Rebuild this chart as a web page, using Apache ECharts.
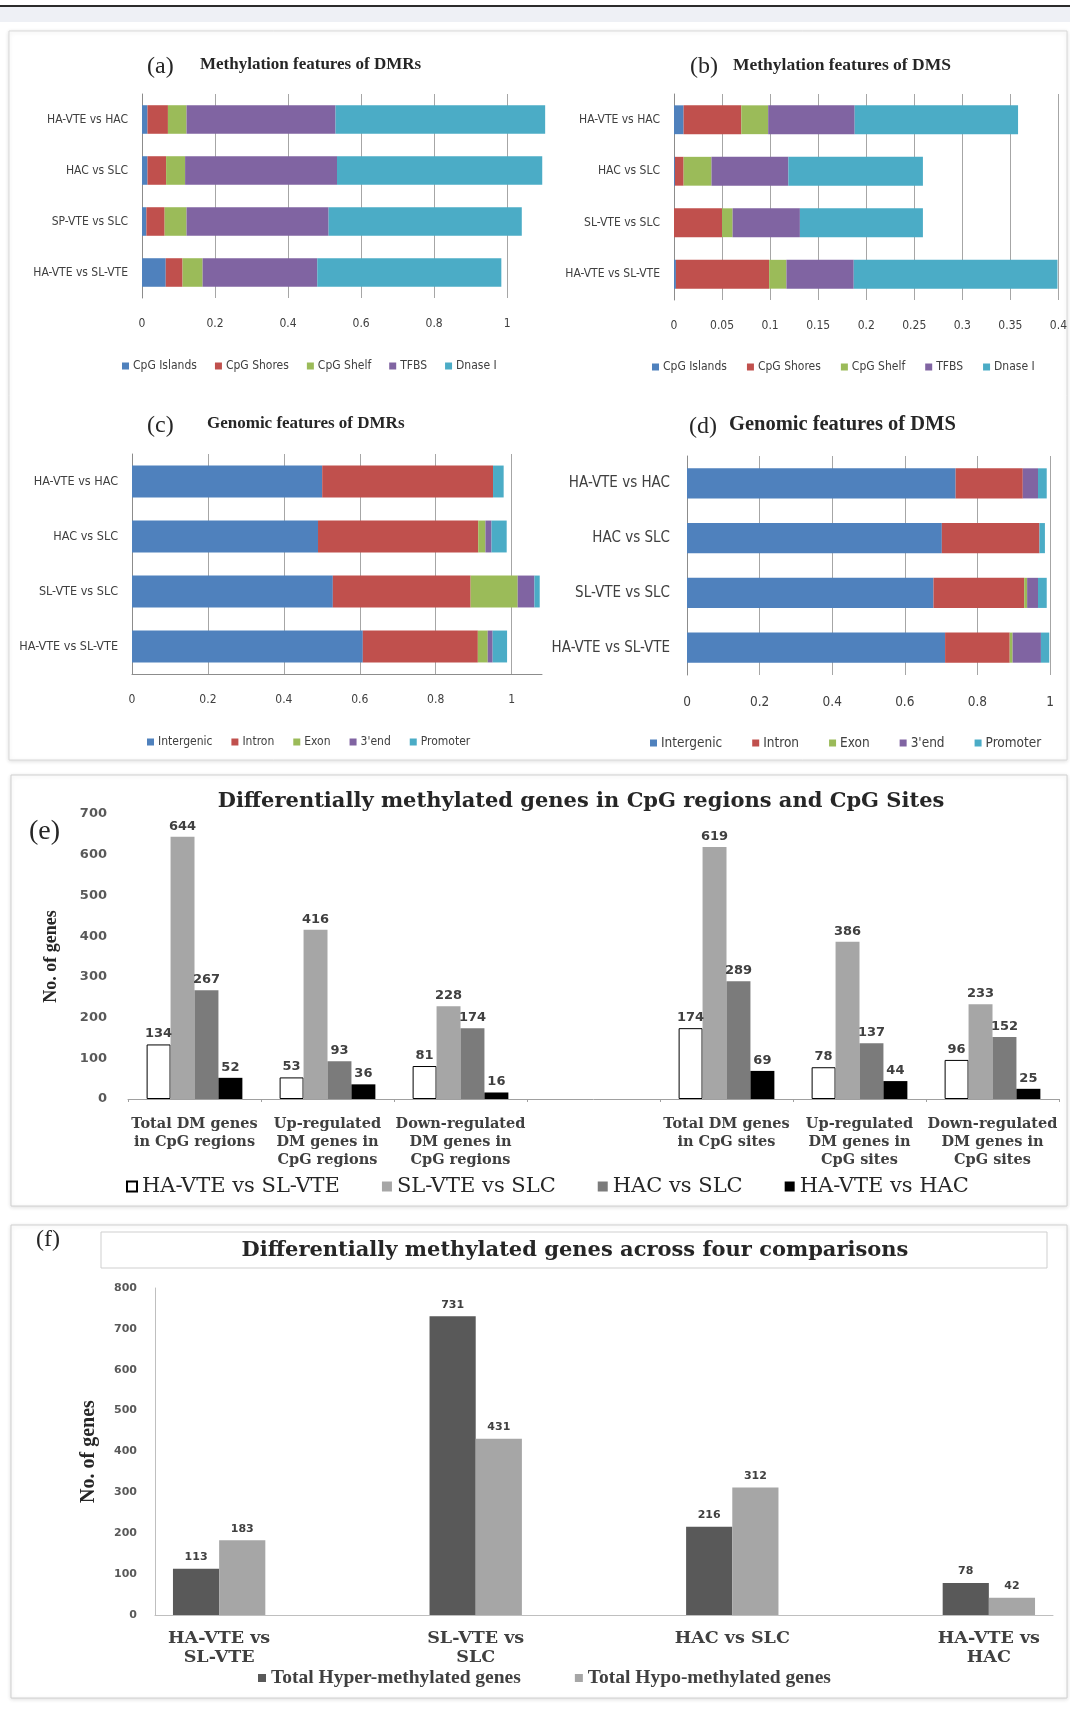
<!DOCTYPE html>
<html>
<head>
<meta charset="utf-8">
<title>Differential methylation summary</title>
<script src="https://cdn.jsdelivr.net/npm/echarts@6/dist/echarts.min.js"></script>
<style>
  html, body { margin: 0; padding: 0; background: #ffffff; }
  #chart { width: 1070px; height: 1711px; }
</style>
</head>
<body>
<div id="chart"></div>
<script>
// ---------- comparison groups ----------
const dmrComparisons = ['HA-VTE vs HAC', 'HAC vs SLC', 'SP-VTE vs SLC', 'HA-VTE vs SL-VTE'];
const dmsComparisons = ['HA-VTE vs HAC', 'HAC vs SLC', 'SL-VTE vs SLC', 'HA-VTE vs SL-VTE'];

// ---------- (a) methylation features of DMRs (fractions, rows top to bottom) ----------
const methylFeatures = ['CpG Islands', 'CpG Shores', 'CpG Shelf', 'TFBS', 'Dnase I'];
const dmrCpgIslands = [0.015, 0.015, 0.012, 0.065];
const dmrCpgShores  = [0.056, 0.051, 0.050, 0.046];
const dmrCpgShelf   = [0.051, 0.052, 0.060, 0.055];
const dmrTfbs       = [0.408, 0.416, 0.389, 0.314];
const dmrDnase      = [0.574, 0.562, 0.529, 0.504];

// ---------- (b) methylation features of DMS ----------
const dmsCpgIslands = [0.010, 0.001, 0.000, 0.002];
const dmsCpgShores  = [0.060, 0.009, 0.050, 0.097];
const dmsCpgShelf   = [0.028, 0.029, 0.011, 0.018];
const dmsTfbs       = [0.090, 0.080, 0.070, 0.070];
const dmsDnase      = [0.170, 0.140, 0.128, 0.212];

// ---------- (c) genomic features of DMRs ----------
const genomicFeatures = ['Intergenic', 'Intron', 'Exon', "3'end", 'Promoter'];
const dmrIntergenic = [0.501, 0.490, 0.529, 0.608];
const dmrIntron     = [0.450, 0.422, 0.363, 0.303];
const dmrExon       = [0.000, 0.019, 0.124, 0.026];
const dmrThreeEnd   = [0.000, 0.016, 0.044, 0.013];
const dmrPromoter   = [0.028, 0.040, 0.014, 0.038];

// ---------- (d) genomic features of DMS ----------
const dmsIntergenic = [0.740, 0.702, 0.679, 0.711];
const dmsIntron     = [0.185, 0.269, 0.250, 0.178];
const dmsExon       = [0.000, 0.000, 0.008, 0.008];
const dmsThreeEnd   = [0.042, 0.000, 0.030, 0.078];
const dmsPromoter   = [0.024, 0.015, 0.024, 0.023];

// ---------- (e) DM genes in CpG regions and CpG sites ----------
const geneGroups = [
  'Total DM genes\nin CpG regions',
  'Up-regulated\nDM genes in\nCpG regions',
  'Down-regulated\nDM genes in\nCpG regions',
  '',
  'Total DM genes\nin CpG sites',
  'Up-regulated\nDM genes in\nCpG sites',
  'Down-regulated\nDM genes in\nCpG sites'
];
const geneSeriesNames = ['HA-VTE vs SL-VTE', 'SL-VTE vs SLC', 'HAC vs SLC', 'HA-VTE vs HAC'];
const genesHaVteVsSlVte = [134, 53, 81, '-', 174, 78, 96];
const genesSlVteVsSlc   = [644, 416, 228, '-', 619, 386, 233];
const genesHacVsSlc     = [267, 93, 174, '-', 289, 137, 152];
const genesHaVteVsHac   = [52, 36, 16, '-', 69, 44, 25];
const geneTicks = [0, 100, 200, 300, 400, 500, 600, 700];

// ---------- (f) hyper / hypo methylated genes per comparison ----------
const pairComparisons = ['HA-VTE vs\nSL-VTE', 'SL-VTE vs\nSLC', 'HAC vs SLC', 'HA-VTE vs\nHAC'];
const hyperMethylated = [113, 731, 216, 78];
const hypoMethylated  = [183, 431, 312, 42];
const pairTicks = [0, 100, 200, 300, 400, 500, 600, 700, 800];

// ---------- styling ----------
const NARROW = "'Liberation Sans Narrow','DejaVu Sans Condensed','Liberation Sans',sans-serif";
const SERIF = "'Liberation Serif','DejaVu Serif',serif";
const WIDE_SERIF = "'DejaVu Serif','Liberation Serif',serif";
const featureColors = ['#4f81bd', '#c0504d', '#9bbb59', '#8064a2', '#4bacc6'];

// stacked horizontal bars for one of the four proportion panels
function stackedSeries(names, lists, axisIndex, gap) {
  return names.map((name, i) => ({
    name,
    type: 'bar',
    stack: 'panel' + axisIndex,
    xAxisIndex: axisIndex,
    yAxisIndex: axisIndex,
    barCategoryGap: gap,
    itemStyle: { color: featureColors[i] },
    emphasis: { disabled: true },
    data: lists[i]
  }));
}

function fractionAxis(gridIndex, max, interval, showMax, showLine, fontSize) {
  return {
    type: 'value', gridIndex, min: 0, max, interval,
    axisLine: { show: showLine, lineStyle: { color: '#8c8c8c' } },
    axisTick: { show: false },
    splitLine: { show: true, showMaxLine: showMax, lineStyle: { color: '#a6a6a6', width: 1 } },
    axisLabel: {
      color: '#404040', fontSize, fontFamily: NARROW, margin: 20,
      showMaxLabel: showMax, showMinLabel: true
    }
  };
}

function comparisonAxis(gridIndex, cats, fontSize, margin) {
  return {
    type: 'category', gridIndex, data: cats, inverse: true,
    axisLine: { show: true, lineStyle: { color: '#8c8c8c' } },
    axisTick: { show: false },
    axisLabel: { color: '#404040', fontSize, fontFamily: NARROW, margin }
  };
}

function featureLegend(names, left, top, fontSize, gap) {
  return {
    data: names, left, top, orient: 'horizontal', icon: 'rect',
    itemWidth: 7, itemHeight: 7, itemGap: gap, selectedMode: false, padding: 0,
    textStyle: { color: '#404040', fontSize, fontFamily: NARROW, padding: [0, 0, 0, -1] }
  };
}

function label(x, y, text, font, align) {
  return {
    type: 'text', x, y, z: 10,
    style: {
      text, font, fill: '#262626',
      textAlign: align || 'left', align: align || 'left',
      textVerticalAlign: 'middle', verticalAlign: 'middle'
    }
  };
}

function frame(x, y, w, h, stroke, shadow) {
  return {
    type: 'rect', z: -10,
    shape: { x, y, width: w, height: h },
    style: {
      fill: '#ffffff', stroke, lineWidth: 1,
      shadowBlur: shadow ? 4 : 0, shadowColor: 'rgba(0,0,0,0.12)', shadowOffsetY: shadow ? 1 : 0
    }
  };
}

const geneColors = ['#ffffff', '#a6a6a6', '#7b7b7b', '#000000'];
const geneLists = [genesHaVteVsSlVte, genesSlVteVsSlc, genesHacVsSlc, genesHaVteVsHac];

const geneSeries = geneSeriesNames.map((name, i) => ({
  name,
  type: 'bar',
  xAxisIndex: 4,
  yAxisIndex: 4,
  barGap: '0%',
  barCategoryGap: '28%',
  itemStyle: i === 0
    ? { color: geneColors[i], borderColor: '#000000', borderWidth: 1 }
    : { color: geneColors[i] },
  label: {
    show: true, position: 'top', distance: 4,
    color: '#404040', fontSize: 13, fontWeight: 'bold', fontFamily: "'DejaVu Sans',sans-serif"
  },
  emphasis: { disabled: true },
  data: geneLists[i]
}));

function pairSeries(name, values, color) {
  return {
    name,
    type: 'bar',
    xAxisIndex: 5,
    yAxisIndex: 5,
    barGap: '0%',
    barWidth: '18%',
    itemStyle: { color },
    label: {
      show: true, position: 'top', distance: 6,
      formatter: p => p.value[1],
      color: '#404040', fontSize: 11, fontWeight: 'bold', fontFamily: "'DejaVu Sans',sans-serif"
    },
    emphasis: { disabled: true },
    data: values.map((v, i) => [i, v])
  };
}

const option = {
  backgroundColor: '#ffffff',
  animation: false,
  grid: [
    { left: 142, top: 94, width: 409, height: 204 },
    { left: 674, top: 94, width: 386, height: 206 },
    { left: 132, top: 454, width: 410, height: 220 },
    { left: 687, top: 456, width: 363, height: 219 },
    { left: 128, top: 814, width: 931, height: 285 },
    { left: 155, top: 1288, width: 898, height: 327 }
  ],
  xAxis: [
    fractionAxis(0, 1.12, 0.2, false, false, 12),
    fractionAxis(1, 0.4, 0.05, true, false, 12),
    fractionAxis(2, 1.08, 0.2, false, true, 12),
    fractionAxis(3, 1, 0.2, true, false, 13.5),
    {
      type: 'category', gridIndex: 4, data: geneGroups,
      axisLine: { show: true, lineStyle: { color: '#a0a0a0' } },
      axisTick: { show: true, length: 3, lineStyle: { color: '#a0a0a0' } },
      axisLabel: {
        interval: 0, margin: 16, color: '#404040',
        fontFamily: WIDE_SERIF, fontWeight: 'bold', fontSize: 14.5, lineHeight: 18
      }
    },
    {
      type: 'value', gridIndex: 5, min: -0.25, max: 3.25,
      axisLine: { show: true, onZero: false, lineStyle: { color: '#bfbfbf' } },
      axisTick: { show: false },
      splitLine: { show: false },
      axisLabel: {
        margin: 14, color: '#404040',
        fontFamily: WIDE_SERIF, fontWeight: 'bold', fontSize: 17.5, lineHeight: 19,
        formatter: v => {
          const k = Math.round(v);
          return Math.abs(v - k) < 1e-6 && pairComparisons[k] !== undefined ? pairComparisons[k] : '';
        }
      }
    }
  ],
  yAxis: [
    comparisonAxis(0, dmrComparisons, 12, 14),
    comparisonAxis(1, dmsComparisons, 12, 14),
    comparisonAxis(2, dmsComparisons, 12.5, 14),
    comparisonAxis(3, dmsComparisons, 15, 17),
    {
      type: 'value', gridIndex: 4,
      min: geneTicks[0], max: geneTicks[geneTicks.length - 1], interval: geneTicks[1] - geneTicks[0],
      axisLine: { show: false }, axisTick: { show: false }, splitLine: { show: false },
      axisLabel: { color: '#595959', fontSize: 13, fontWeight: 'bold', fontFamily: "'DejaVu Sans',sans-serif", margin: 21 },
      name: 'No. of genes', nameLocation: 'middle', nameRotate: 90, nameGap: 68,
      nameTextStyle: { color: '#262626', fontFamily: SERIF, fontWeight: 'bold', fontSize: 18 }
    },
    {
      type: 'value', gridIndex: 5,
      min: pairTicks[0], max: pairTicks[pairTicks.length - 1], interval: pairTicks[1] - pairTicks[0],
      axisLine: { show: true, onZero: false, lineStyle: { color: '#bfbfbf' } },
      axisTick: { show: false }, splitLine: { show: false },
      axisLabel: { color: '#595959', fontSize: 11, fontWeight: 'bold', fontFamily: "'DejaVu Sans',sans-serif", margin: 18 },
      name: 'No. of genes', nameLocation: 'middle', nameRotate: 90, nameGap: 56,
      nameTextStyle: { color: '#262626', fontFamily: SERIF, fontWeight: 'bold', fontSize: 20 }
    }
  ],
  legend: [
    featureLegend(methylFeatures, 122, 360, 12, 18),
    featureLegend(methylFeatures, 652, 361, 12, 20),
    featureLegend(genomicFeatures, 147, 736, 12, 19),
    featureLegend(genomicFeatures, 650, 736, 13.5, 30),
    {
      data: geneSeriesNames, left: 126, top: 1176, icon: 'rect',
      itemWidth: 10, itemHeight: 10, itemGap: 42, selectedMode: false, padding: 0,
      textStyle: { color: '#262626', fontFamily: WIDE_SERIF, fontSize: 21 }
    },
    {
      data: ['Total Hyper-methylated genes', 'Total Hypo-methylated genes'],
      left: 258, top: 1668, icon: 'rect',
      itemWidth: 8, itemHeight: 8, itemGap: 54, selectedMode: false, padding: 0,
      textStyle: { color: '#404040', fontFamily: SERIF, fontWeight: 'bold', fontSize: 19.5 }
    }
  ],
  graphic: [
    // page header strip
    { type: 'rect', z: -20, shape: { x: 0, y: 5, width: 1070, height: 2 }, style: { fill: '#2b2b2b' } },
    { type: 'rect', z: -20, shape: { x: 0, y: 7, width: 1070, height: 15 }, style: { fill: '#eef0f5' } },
    // panel frames
    frame(9, 31, 1058, 729, '#d9d9d9', true),
    frame(11, 775, 1056, 431, '#d0d0d0', true),
    frame(11, 1225, 1056, 473, '#d0d0d0', true),
    frame(101, 1232, 946, 36, '#cfcfcf', false),
    // panel titles
    label(147, 67, '(a)', "24px 'Liberation Serif'"),
    label(200, 65, 'Methylation features of DMRs', "bold 17px 'Liberation Serif'"),
    label(690, 67, '(b)', "24px 'Liberation Serif'"),
    label(733, 65, 'Methylation features of DMS', "bold 17.5px 'Liberation Serif'"),
    label(147, 426, '(c)', "24px 'Liberation Serif'"),
    label(207, 424, 'Genomic features of DMRs', "bold 17px 'Liberation Serif'"),
    label(689, 427, '(d)', "24px 'Liberation Serif'"),
    label(729, 425, 'Genomic features of DMS', "bold 20.5px 'Liberation Serif'"),
    label(29, 832, '(e)', "28px 'Liberation Serif'"),
    label(581, 802, 'Differentially methylated genes in CpG regions and CpG Sites', "bold 21px 'DejaVu Serif'", 'center'),
    label(36, 1240, '(f)', "24px 'Liberation Serif'"),
    label(575, 1251, 'Differentially methylated genes across four comparisons', "bold 21px 'DejaVu Serif'", 'center')
  ],
  series: [
    ...stackedSeries(methylFeatures, [dmrCpgIslands, dmrCpgShores, dmrCpgShelf, dmrTfbs, dmrDnase], 0, '44%'),
    ...stackedSeries(methylFeatures, [dmsCpgIslands, dmsCpgShores, dmsCpgShelf, dmsTfbs, dmsDnase], 1, '44%'),
    ...stackedSeries(genomicFeatures, [dmrIntergenic, dmrIntron, dmrExon, dmrThreeEnd, dmrPromoter], 2, '42%'),
    ...stackedSeries(genomicFeatures, [dmsIntergenic, dmsIntron, dmsExon, dmsThreeEnd, dmsPromoter], 3, '45%'),
    ...geneSeries,
    pairSeries('Total Hyper-methylated genes', hyperMethylated, '#595959'),
    pairSeries('Total Hypo-methylated genes', hypoMethylated, '#a6a6a6')
  ]
};

const chart = echarts.init(document.getElementById('chart'), null, { renderer: 'canvas' });
chart.setOption(option);
</script>
</body>
</html>
